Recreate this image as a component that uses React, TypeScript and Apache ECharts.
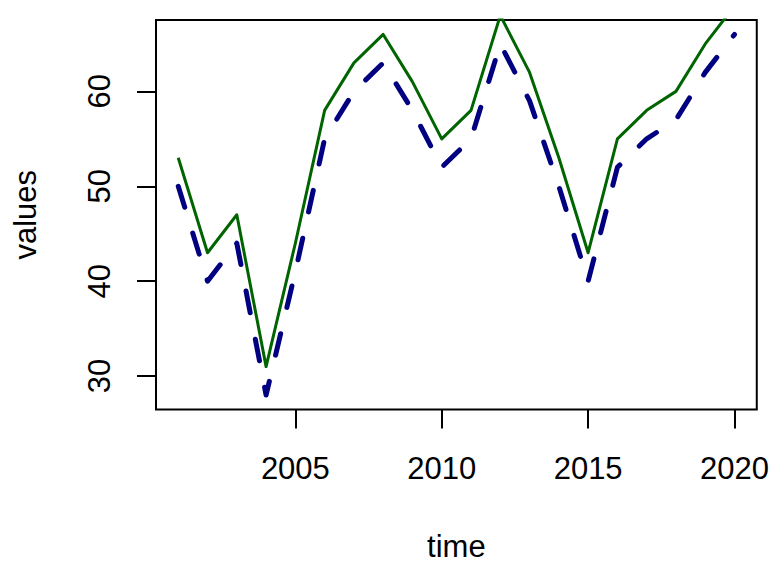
import React, { useEffect, useRef } from "react";
import * as echarts from "echarts";

const years = [2001, 2002, 2003, 2004, 2005, 2006, 2007, 2008, 2009, 2010, 2011, 2012, 2013, 2014, 2015, 2016, 2017, 2018, 2019, 2020];
const blueValues = [50, 40, 44, 28, 41, 55, 60, 63, 58, 52, 55, 65, 59, 50, 40, 52, 55, 57, 62, 66];
const greenValues = [53, 43, 47, 31, 44, 58, 63, 66, 61, 55, 58, 68, 62, 53, 43, 55, 58, 60, 65, 69];
const xTicks = [2005, 2010, 2015, 2020];
const yTicks = [30, 40, 50, 60];

export default function App() {
  const ref = useRef<HTMLDivElement>(null);
  useEffect(() => {
    document.body.style.margin = "0";
    const chart = echarts.init(ref.current!, null, { renderer: "svg" });
    const font = "'Liberation Sans', Arial, sans-serif";
    const fs = 31;
    const yMin = 28 - 0.04 * 38;
    const yMax = 66 + 0.04 * 38;
    const xMin = 2001 - 0.04 * 19;
    const xMax = 2020 + 0.04 * 19;
    chart.setOption({
      animation: false,
      grid: {
        left: 156,
        top: 20,
        width: 604,
        height: 392,
        show: true,
        borderColor: "#000",
        borderWidth: 2,
        backgroundColor: "transparent",
      },
      xAxis: {
        type: "value",
        min: xMin,
        max: xMax,
        name: "time",
        nameLocation: "middle",
        nameGap: 137,
        nameTextStyle: { fontFamily: font, fontSize: fs, color: "#000", verticalAlign: "middle" },
        axisLine: { show: false },
        splitLine: { show: false },
        axisTick: { show: true, length: 19, customValues: xTicks, lineStyle: { color: "#000", width: 2 } },
        axisLabel: {
          customValues: xTicks,
          formatter: (v: number) => String(Math.round(v)),
          margin: 59,
          verticalAlign: "middle",
          fontFamily: font,
          fontSize: fs,
          color: "#000",
        },
      },
      yAxis: {
        type: "value",
        min: yMin,
        max: yMax,
        name: "values",
        nameLocation: "middle",
        nameGap: 131,
        nameRotate: 90,
        nameTextStyle: { fontFamily: font, fontSize: fs, color: "#000", verticalAlign: "middle" },
        axisLine: { show: false },
        splitLine: { show: false },
        axisTick: { show: true, length: 19, customValues: yTicks, lineStyle: { color: "#000", width: 2 } },
        axisLabel: {
          customValues: yTicks,
          formatter: (v: number) => String(Math.round(v)),
          rotate: 90,
          margin: 57,
          align: "center",
          verticalAlign: "middle",
          fontFamily: font,
          fontSize: fs,
          color: "#000",
        },
      },
      series: [
        {
          type: "line",
          data: years.map((y, i) => [y, blueValues[i]]),
          showSymbol: false,
          clip: true,
          lineStyle: { color: "#000080", width: 5, type: [22, 27], cap: "round", join: "round" },
        },
        {
          type: "line",
          data: years.map((y, i) => [y, greenValues[i]]),
          showSymbol: false,
          clip: true,
          lineStyle: { color: "#006400", width: 3, type: "solid", join: "round" },
        },
      ],
    });
    return () => chart.dispose();
  }, []);
  return <div ref={ref} style={{ position: "absolute", left: 0, top: 0, width: 772, height: 567 }} />;
}
